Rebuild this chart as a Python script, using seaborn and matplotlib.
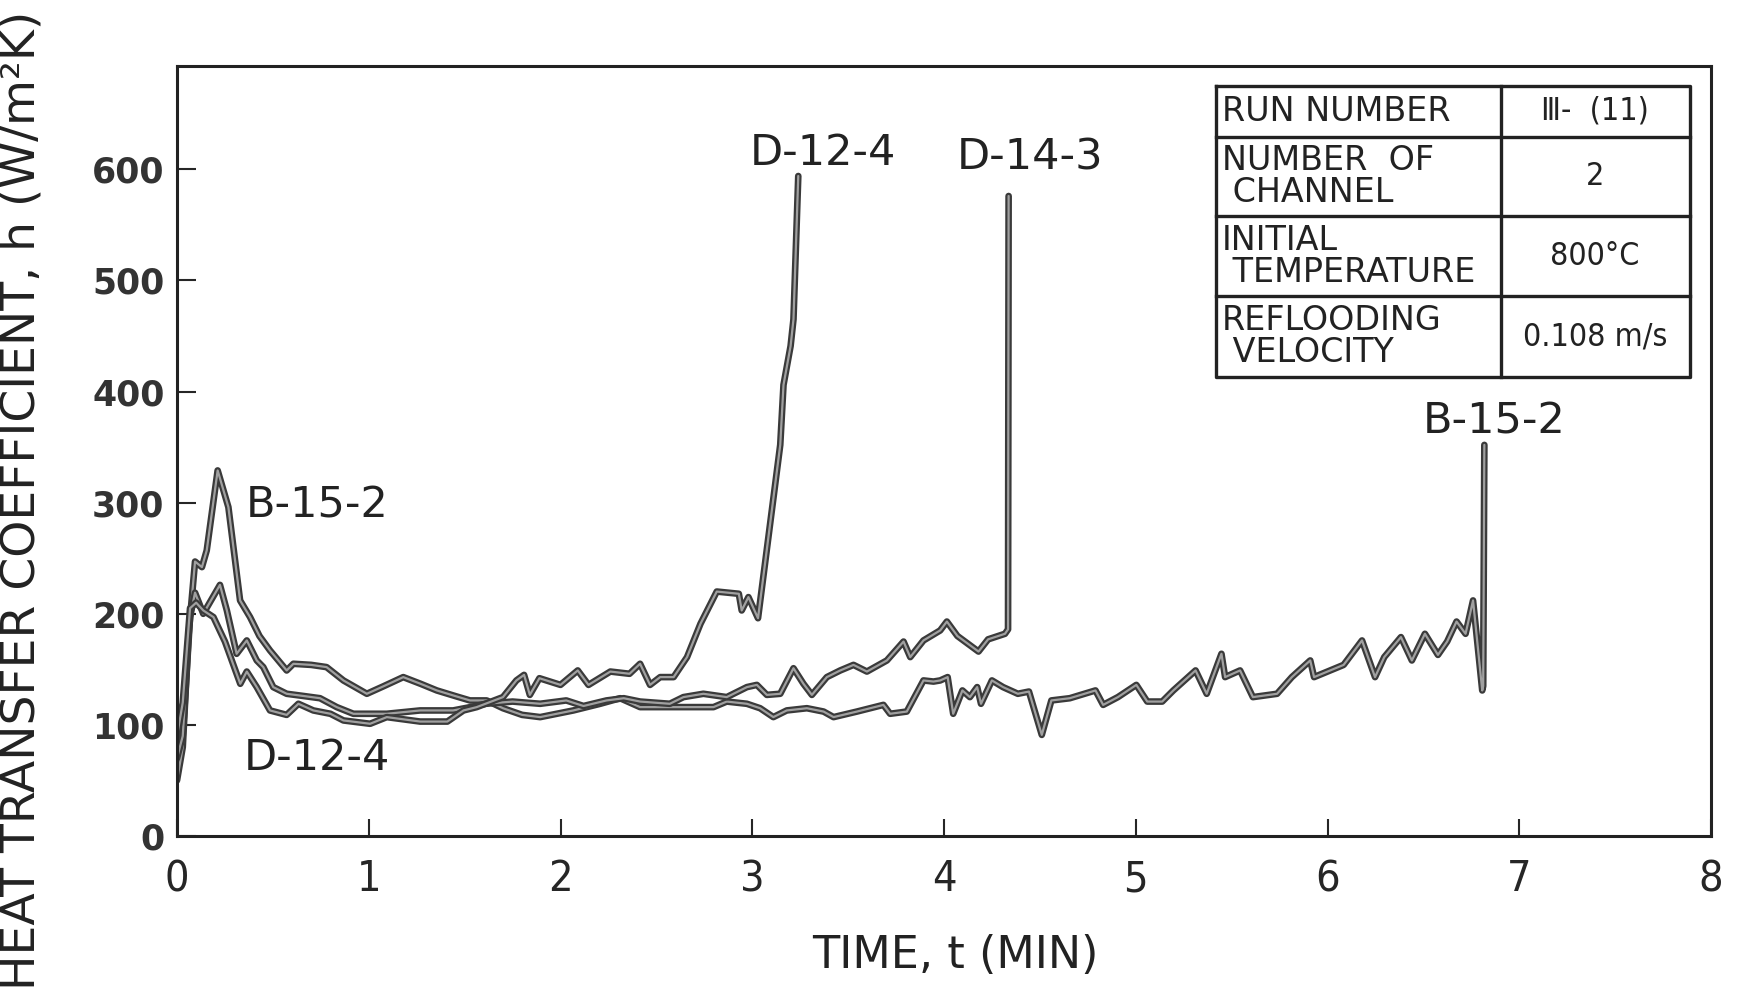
import numpy as np
import pandas as pd
import matplotlib
matplotlib.use("Agg")
import matplotlib.pyplot as plt
import matplotlib.patheffects as pe
import seaborn as sns

# ---------------- data ----------------
b152_t = [0.0, 0.03, 0.06, 0.094, 0.13, 0.155, 0.212, 0.268, 0.329, 0.381, 0.43, 0.485,
          0.572, 0.607, 0.70, 0.78, 0.868, 0.99, 1.08, 1.18, 1.27, 1.355, 1.45, 1.528,
          1.615, 1.70, 1.80, 1.894, 2.067, 2.207, 2.311, 2.415, 2.589, 2.798, 2.867,
          2.972, 3.041, 3.11, 3.18, 3.285, 3.372, 3.424, 3.546, 3.684, 3.719, 3.806,
          3.893, 3.945, 3.98, 4.019, 4.048, 4.096, 4.135, 4.173, 4.193, 4.25, 4.308,
          4.385, 4.443, 4.51, 4.56, 4.656, 4.79, 4.83, 4.907, 5.003, 5.06, 5.138, 5.196,
          5.312, 5.37, 5.447, 5.466, 5.544, 5.611, 5.737, 5.814, 5.91, 5.93, 6.084,
          6.18, 6.248, 6.296, 6.383, 6.44, 6.508, 6.576, 6.624, 6.673, 6.72, 6.759,
          6.807, 6.812, 6.818]
b152_h = [50, 80, 180, 247, 242, 257, 329, 296, 212, 197, 180, 167,
          149, 155, 154, 152, 140, 128, 135, 143, 137, 131, 126, 122,
          122, 115, 109, 107, 113, 119, 124, 116, 116, 116, 121,
          119, 115, 107, 113, 115, 112, 107, 112, 118, 110, 112,
          140, 139, 140, 143, 110, 131, 125, 134, 119, 140, 134,
          128, 130, 91, 122, 124, 131, 118, 125, 136, 121, 121, 131,
          149, 128, 164, 143, 149, 125, 128, 143, 158, 143, 154,
          176, 143, 161, 179, 158, 182, 163, 175, 193, 182, 212,
          131, 135, 352]

d143_t = [0.0, 0.03, 0.068, 0.094, 0.137, 0.224, 0.26, 0.311, 0.364, 0.416, 0.45, 0.502,
          0.572, 0.66, 0.746, 0.833, 0.92, 1.094, 1.268, 1.44, 1.53, 1.61, 1.75, 1.894,
          2.03, 2.12, 2.24, 2.33, 2.415, 2.57, 2.641, 2.745, 2.867, 2.972, 3.024, 3.076,
          3.146, 3.215, 3.267, 3.311, 3.389, 3.459, 3.528, 3.598, 3.702, 3.789, 3.824,
          3.893, 3.98, 4.015, 4.07, 4.18, 4.23, 4.318, 4.334, 4.337]
d143_h = [70, 90, 197, 219, 200, 226, 203, 164, 176, 158, 152, 134,
          128, 126, 124, 116, 110, 110, 113, 113, 116, 119, 121, 119,
          122, 117, 122, 124, 121, 119, 125, 128, 125, 134, 136, 127,
          128, 151, 137, 127, 143, 149, 154, 148, 158, 175, 161,
          176, 185, 193, 180, 166, 177, 182, 186, 576]

d124_t = [0.0, 0.03, 0.068, 0.10, 0.137, 0.19, 0.25, 0.311, 0.33, 0.364, 0.416, 0.485,
          0.572, 0.633, 0.711, 0.80, 0.868, 1.007, 1.094, 1.268, 1.41, 1.494, 1.563,
          1.70, 1.77, 1.81, 1.84, 1.89, 2.0, 2.09, 2.146, 2.26, 2.36, 2.415, 2.467,
          2.52, 2.59, 2.66, 2.73, 2.815, 2.93, 2.945, 2.98, 3.03, 3.146, 3.163, 3.20,
          3.215, 3.24]
d124_h = [90, 120, 205, 210, 203, 197, 175, 146, 137, 148, 134, 113,
          109, 119, 113, 110, 104, 101, 107, 103, 103, 113, 116,
          125, 140, 145, 127, 142, 136, 149, 136, 148, 146, 155, 136,
          143, 143, 161, 191, 220, 218, 203, 215, 196, 352, 406, 441,
          465, 594]

x_ticks = [0, 1, 2, 3, 4, 5, 6, 7, 8]
y_ticks = [0, 100, 200, 300, 400, 500, 600]

table_left = ["RUN NUMBER", "NUMBER  OF\n CHANNEL", "INITIAL\n TEMPERATURE", "REFLOODING\n VELOCITY"]
table_right = ["Ⅲ-  (11)", "2", "800°C", "0.108 m/s"]

curve_labels = [("D-12-4", 3.37, 615), ("D-14-3", 4.45, 611), ("B-15-2", 6.87, 373),
                ("B-15-2", 0.73, 297), ("D-12-4", 0.73, 70)]

# ---------------- figure ----------------
sns.set_style("ticks")
plt.rcParams["font.family"] = ["DejaVu Sans", "Noto Sans CJK JP"]

W, H = 1737, 1000
fig = plt.figure(figsize=(W / 100, H / 100), dpi=100)
fig.patch.set_facecolor("white")
ax = fig.add_axes([177 / W, 1 - 836 / H, 1534 / W, 770 / H])

df = pd.concat([
    pd.DataFrame({"t": b152_t, "h": b152_h, "run": "B-15-2"}),
    pd.DataFrame({"t": d143_t, "h": d143_h, "run": "D-14-3"}),
    pd.DataFrame({"t": d124_t, "h": d124_h, "run": "D-12-4"}),
])
for run in ["B-15-2", "D-14-3", "D-12-4"]:
    sub = df[df["run"] == run]
    sns.lineplot(data=sub, x="t", y="h", ax=ax, estimator=None, sort=False,
                 color="#a0a0a0", linewidth=1.6,
                 path_effects=[pe.Stroke(linewidth=4.8, foreground="#3a3a3a"), pe.Normal()])

ax.set_xlim(0, 8)
ax.set_ylim(0, 693)
ax.set_xticks(x_ticks)
ax.set_yticks(y_ticks)
ax.set_xticklabels([str(v) for v in x_ticks], fontsize=31, fontstretch="condensed")
ax.set_yticklabels([str(v) for v in y_ticks], fontsize=25, fontweight="bold", color="#333333")
ax.tick_params(axis="x", direction="in", length=12, width=1.5, pad=16, top=False)
ax.tick_params(axis="y", direction="in", length=14, width=1.5, pad=9, right=False)
for s in ax.spines.values():
    s.set_visible(True)
    s.set_linewidth(2.2)
    s.set_color("#222222")
ax.set_xlabel("")
ax.set_ylabel("")

fig.text(955 / W, 1 - 956 / H, "TIME, t (MIN)", fontsize=32, ha="center", va="center",
         color="#222222")
fig.text(22 / W, 1 - 500 / H, "HEAT TRANSFER COEFFICIENT, h (W/m²K)", fontsize=34,
         rotation=90, ha="center", va="center", color="#222222")

for txt, tx, ty in curve_labels:
    ax.text(tx, ty, txt, fontsize=31, ha="center", va="center", color="#222222")

# table drawn in axes-fraction coordinates
tl, tm, tr = 0.677, 0.863, 0.986
rows = [0.974, 0.908, 0.805, 0.701, 0.596]
lw = 2.4
kw = dict(transform=ax.transAxes, color="#222222", linewidth=lw, clip_on=False, solid_capstyle="projecting")
ax.plot([tl, tr, tr, tl, tl], [rows[0], rows[0], rows[-1], rows[-1], rows[0]], **kw)
ax.plot([tm, tm], [rows[0], rows[-1]], **kw)
for r in rows[1:-1]:
    ax.plot([tl, tr], [r, r], **kw)
for i in range(4):
    yc = (rows[i] + rows[i + 1]) / 2
    ax.text(tl + 0.004, yc, table_left[i], transform=ax.transAxes, fontsize=24,
            ha="left", va="center", linespacing=0.95, color="#222222")
    ax.text((tm + tr) / 2, yc, table_right[i], transform=ax.transAxes, fontsize=23,
            ha="center", va="center", color="#222222", fontstretch="condensed")

fig.savefig("out.png", dpi=100, facecolor="white")
